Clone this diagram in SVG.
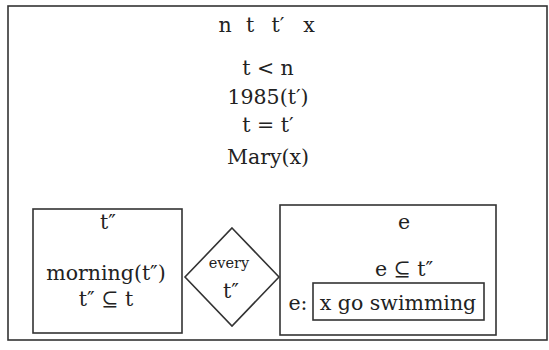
<svg xmlns="http://www.w3.org/2000/svg" width="549" height="350" viewBox="0 0 549 350">
<style>
.box{fill:none;stroke:#333;stroke-width:1.6}
.t{font-family:"DejaVu Serif","Liberation Serif",serif;font-size:20.5px;fill:#222;text-anchor:middle}
.s{font-family:"DejaVu Serif","Liberation Serif",serif;font-size:14.5px;fill:#222;text-anchor:middle}
</style>
<rect width="549" height="350" fill="#fff"/>
<g id="outer">
<rect class="box" x="8" y="6" width="539" height="334" stroke-width="2"/>
<text class="t" x="225" y="32">n</text>
<text class="t" x="250" y="32">t</text>
<text class="t" x="278" y="32">t′</text>
<text class="t" x="309" y="32">x</text>
<text class="t" x="268" y="75">t &lt; n</text>
<text class="t" x="268" y="104">1985(t′)</text>
<text class="t" x="268" y="132">t = t′</text>
<text class="t" x="268" y="164">Mary(x)</text>
</g>
<g id="left">
<rect class="box" x="33" y="209" width="149" height="124"/>
<text class="t" x="108" y="229">t″</text>
<text class="t" x="106" y="280">morning(t″)</text>
<text class="t" x="106" y="306">t″ ⊆ t</text>
</g>
<g id="every">
<polygon class="box" points="232,228 279,277 232,326 185,277"/>
<text class="s" x="229" y="268">every</text>
<text class="t" x="231" y="298">t″</text>
</g>
<g id="right">
<rect class="box" x="280" y="205" width="216" height="130"/>
<text class="t" x="404" y="229">e</text>
<text class="t" x="404" y="276">e ⊆ t″</text>
<text class="t" x="298" y="310">e:</text>
<rect class="box" x="313" y="283" width="171" height="37"/>
<text class="t" x="398" y="310">x go swimming</text>
</g>
<g id="connectors"></g>
</svg>
